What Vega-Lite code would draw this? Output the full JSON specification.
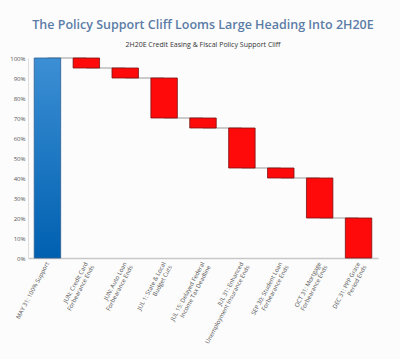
{
  "$schema": "https://vega.github.io/schema/vega-lite/v6.json",
  "width": 350,
  "height": 200,
  "autosize": {"type": "none"},
  "padding": {"left": 28, "top": 58, "right": 22, "bottom": 101},
  "background": "#fcfcfc",
  "config": {
    "view": {"stroke": null},
    "font": "Open Sans"
  },
  "title": {
    "text": "The Policy Support Cliff Looms Large Heading Into 2H20E",
    "subtitle": "2H20E Credit Easing & Fiscal Policy Support Cliff",
    "font": "Open Sans",
    "fontSize": 12.5,
    "fontWeight": 600,
    "color": "#5b7ca6",
    "subtitleFont": "Open Sans",
    "subtitleFontSize": 7,
    "subtitleColor": "#333333",
    "subtitlePadding": 10,
    "offset": 7,
    "anchor": "middle"
  },
  "data": {
    "values": [
      {"label": "MAY 31: 100% Support", "start": 0, "end": 100, "next": "JUN: Credit Card Forbearance Ends", "type": "start"},
      {"label": "JUN: Credit Card Forbearance Ends", "start": 100, "end": 95, "next": "JUN: Auto Loan Forbearance Ends", "type": "drop"},
      {"label": "JUN: Auto Loan Forbearance Ends", "start": 95, "end": 90, "next": "JUL 1: State & Local Budget Cuts", "type": "drop"},
      {"label": "JUL 1: State & Local Budget Cuts", "start": 90, "end": 70, "next": "JUL 15: Delayed Federal Income Tax Deadline", "type": "drop"},
      {"label": "JUL 15: Delayed Federal Income Tax Deadline", "start": 70, "end": 65, "next": "JUL 31: Enhanced Unemployment Insurance Ends", "type": "drop"},
      {"label": "JUL 31: Enhanced Unemployment Insurance Ends", "start": 65, "end": 45, "next": "SEP 30: Student Loan Forbearance Ends", "type": "drop"},
      {"label": "SEP 30: Student Loan Forbearance Ends", "start": 45, "end": 40, "next": "OCT 31: Mortgage Forbearance Ends", "type": "drop"},
      {"label": "OCT 31: Mortgage Forbearance Ends", "start": 40, "end": 20, "next": "DEC 31: PPP Grace Period Ends", "type": "drop"},
      {"label": "DEC 31: PPP Grace Period Ends", "start": 20, "end": 0, "next": null, "type": "drop"}
    ]
  },
  "encoding": {
    "x": {
      "field": "label",
      "type": "nominal",
      "sort": null,
      "scale": {"paddingInner": 0.32, "paddingOuter": 0.16},
      "axis": {
        "title": null,
        "ticks": false,
        "domainColor": "#c8c8c8",
        "domainWidth": 1.5,
        "labelAngle": -62,
        "labelAlign": "right",
        "labelBaseline": "middle",
        "labelFontSize": 6,
        "labelLineHeight": 7,
        "labelColor": "#555555",
        "labelPadding": 4,
        "labelOverlap": false,
        "labelExpr": "{'MAY 31: 100% Support':['MAY 31: 100% Support'],'JUN: Credit Card Forbearance Ends':['JUN: Credit Card','Forbearance Ends'],'JUN: Auto Loan Forbearance Ends':['JUN: Auto Loan','Forbearance Ends'],'JUL 1: State & Local Budget Cuts':['JUL 1: State & Local','Budget Cuts'],'JUL 15: Delayed Federal Income Tax Deadline':['JUL 15: Delayed Federal','Income Tax Deadline'],'JUL 31: Enhanced Unemployment Insurance Ends':['JUL 31: Enhanced','Unemployment Insurance Ends'],'SEP 30: Student Loan Forbearance Ends':['SEP 30: Student Loan','Forbearance Ends'],'OCT 31: Mortgage Forbearance Ends':['OCT 31: Mortgage','Forbearance Ends'],'DEC 31: PPP Grace Period Ends':['DEC 31: PPP Grace','Period Ends']}[datum.value]"
      }
    },
    "y": {
      "field": "end",
      "type": "quantitative",
      "scale": {"domain": [0, 100]},
      "axis": {
        "title": null,
        "values": [0, 10, 20, 30, 40, 50, 60, 70, 80, 90, 100],
        "labelExpr": "datum.value + '%'",
        "labelOverlap": false,
        "ticks": false,
        "grid": false,
        "domainColor": "#dddddd",
        "labelFontSize": 6,
        "labelColor": "#555555",
        "labelPadding": 3
      }
    }
  },
  "layer": [
    {
      "transform": [{"filter": "datum.next != null"}],
      "mark": {"type": "rule", "color": "#9a9a9a", "strokeWidth": 1},
      "encoding": {
        "x2": {"field": "next"}
      }
    },
    {
      "transform": [{"filter": "datum.type == 'start'"}],
      "mark": {
        "type": "bar",
        "stroke": "#2a5d8f",
        "strokeWidth": 0.8,
        "color": {
          "gradient": "linear", "x1": 0, "y1": 0, "x2": 0, "y2": 1,
          "stops": [{"offset": 0, "color": "#3c8fd4"}, {"offset": 1, "color": "#0060b0"}]
        }
      },
      "encoding": {
        "y2": {"field": "start"}
      }
    },
    {
      "transform": [{"filter": "datum.type == 'drop'"}],
      "mark": {"type": "bar", "color": "#ff0a0a", "stroke": "#7a1010", "strokeWidth": 0.8},
      "encoding": {
        "y2": {"field": "start"}
      }
    }
  ]
}
